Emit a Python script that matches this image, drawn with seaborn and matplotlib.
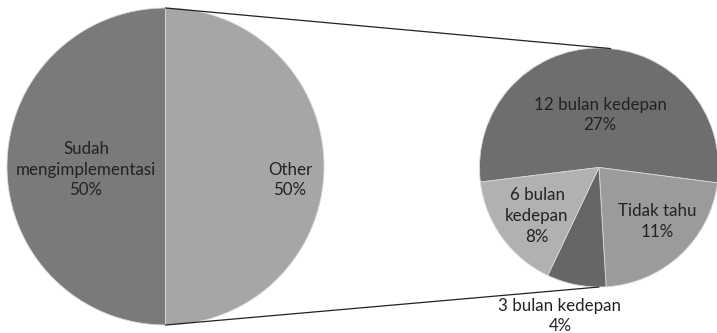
import numpy as np
import matplotlib
matplotlib.use("Agg")
import matplotlib.pyplot as plt
import seaborn as sns

# ---- data ----
main_labels = ["Sudah\nmengimplementasi", "Other"]
main_values = [50, 50]
sub_labels = ["12 bulan kedepan", "Tidak tahu", "3 bulan kedepan", "6 bulan\nkedepan"]
sub_values = [27, 11, 4, 8]

# ---- style ----
sns.set_theme(style="white")
plt.rcParams["font.family"] = ["Lato", "DejaVu Sans"]

main_colors = ["#7a7a7a", "#a6a6a6"]
sub_colors = ["#6e6e6e", "#9b9b9b", "#666666", "#b1b1b1"]

W, H = 717, 333
fig = plt.figure(figsize=(W / 100, H / 100), dpi=100)
ax = fig.add_axes([0, 0, 1, 1])

# layout (pixel space, y measured from bottom)
c1, r1 = (165.5, 166.5), 158.5
c2, r2 = (599.0, 165.5), 119.5

ax.pie(main_values, colors=main_colors, startangle=90, counterclock=True,
       center=c1, radius=r1, frame=True,
       wedgeprops=dict(edgecolor="#d8d8d8", linewidth=0.6))
ax.pie(sub_values, colors=sub_colors, startangle=187, counterclock=False,
       center=c2, radius=r2, frame=True,
       wedgeprops=dict(edgecolor="#d8d8d8", linewidth=0.6))
ax.set_xlim(0, W)
ax.set_ylim(0, H)
ax.set_aspect("equal")
ax.axis("off")

# connector lines
top2 = (c2[0] + r2 * np.cos(np.radians(84.5)), c2[1] + r2 * np.sin(np.radians(84.5)))
bot2 = (c2[0], c2[1] - r2)
ax.plot([c1[0], top2[0]], [c1[1] + r1, top2[1]], color="#222222", lw=0.9)
ax.plot([c1[0], bot2[0]], [c1[1] - r1, bot2[1]], color="#222222", lw=0.9)

# labels
txt = dict(ha="center", va="center", fontsize=12.2, color="#222222", linespacing=1.36)
main_pos = [(86, 163.5), (290, 153)]
for lab, v, (x, y) in zip(main_labels, main_values, main_pos):
    ax.text(x, y, f"{lab}\n{v}%", **txt)

sub_pos = [(600, 218), (657, 111.5), (560, 17), (537, 117)]
for lab, v, (x, y) in zip(sub_labels, sub_values, sub_pos):
    ax.text(x, y, f"{lab}\n{v}%", **txt)

fig.savefig("out.png", dpi=100)
